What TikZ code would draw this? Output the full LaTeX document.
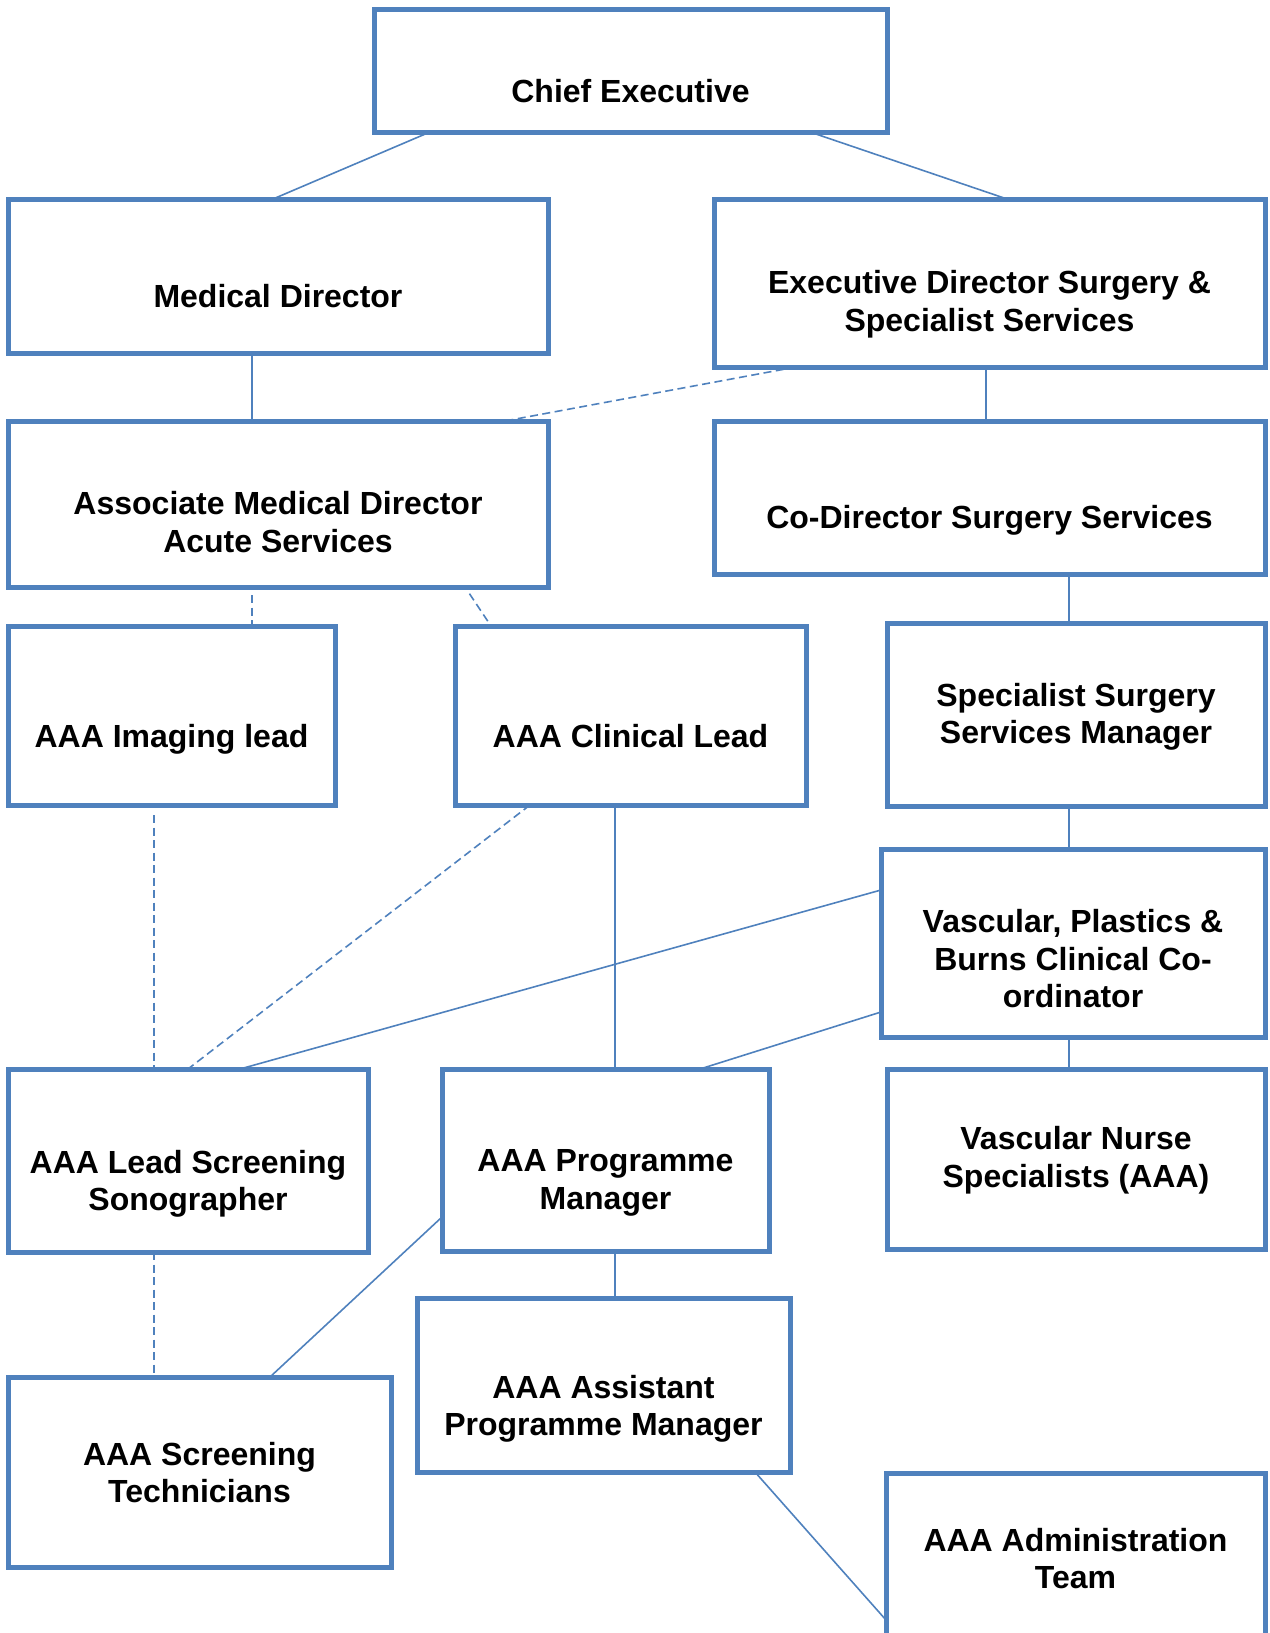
\documentclass[tikz,border=0pt]{standalone}
\usepackage{fontspec}
\setmainfont{Liberation Sans}
\definecolor{orgblue}{HTML}{4F81BD}
\tikzset{
  orgbox/.style={draw=orgblue, line width=5pt, fill=white, outer sep=0pt, inner sep=0pt},
  orgtext/.style={align=center, inner sep=0pt, font=\fontsize{32}{37.5}\selectfont\bfseries},
  solidlink/.style={draw=orgblue, line width=1.6pt},
  dashlink/.style={draw=orgblue, line width=1.6pt, dash pattern=on 8pt off 4.5pt}
}
\begin{document}
\begin{tikzpicture}[x=1pt, y=-1pt]
    \useasboundingbox (0,0) rectangle (1269,1633);
    \clip (0,0) rectangle (1269,1633);
    \node[orgbox, minimum width=513, minimum height=123] (ce) at (630.5,70.5) {};
    \node[orgbox, minimum width=540, minimum height=154] (md) at (278,276) {};
    \node[orgbox, minimum width=551, minimum height=168] (ed) at (989.5,283) {};
    \node[orgbox, minimum width=540, minimum height=166] (amd) at (278,504) {};
    \node[orgbox, minimum width=551, minimum height=153] (cod) at (989.5,497.5) {};
    \node[orgbox, minimum width=327, minimum height=179] (img) at (171.5,715.5) {};
    \node[orgbox, minimum width=351, minimum height=179] (cl) at (630.5,715.5) {};
    \node[orgbox, minimum width=378, minimum height=183] (sssm) at (1076,714.5) {};
    \node[orgbox, minimum width=384, minimum height=188] (vasc) at (1073,943) {};
    \node[orgbox, minimum width=360, minimum height=183] (lss) at (188,1160.5) {};
    \node[orgbox, minimum width=327, minimum height=182] (pm) at (605.5,1160) {};
    \node[orgbox, minimum width=378, minimum height=180] (vns) at (1076,1159) {};
    \node[orgbox, minimum width=383, minimum height=190] (tech) at (199.5,1472) {};
    \node[orgbox, minimum width=373, minimum height=174] (apm) at (603.5,1385) {};
    \node[orgbox, minimum width=379, minimum height=227] (adm) at (1075.5,1586.5) {};

    \node[orgtext] (ce-t) at (630.5,91) {Chief Executive};
    \node[orgtext] (md-t) at (278,296) {Medical Director};
    \node[orgtext] (ed-t) at (989.5,304) {Executive Director Surgery \&\\Specialist Services};
    \node[orgtext] (amd-t) at (278,522) {Associate Medical Director\\Acute Services};
    \node[orgtext] (cod-t) at (989.5,520) {Co-Director Surgery Services};
    \node[orgtext] (img-t) at (171.5,739) {AAA Imaging lead};
    \node[orgtext] (cl-t) at (630.5,736) {AAA Clinical Lead};
    \node[orgtext] (sssm-t) at (1076,717) {Specialist Surgery\\Services Manager};
    \node[orgtext] (vasc-t) at (1073,959) {Vascular, Plastics \&\\Burns Clinical Co-\\ordinator};
    \node[orgtext] (lss-t) at (188,1184) {AAA Lead Screening\\Sonographer};
    \node[orgtext] (pm-t) at (605.5,1183) {AAA Programme\\Manager};
    \node[orgtext] (vns-t) at (1076,1160) {Vascular Nurse\\Specialists (AAA)};
    \node[orgtext] (tech-t) at (199.5,1472.5) {AAA Screening\\Technicians};
    \node[orgtext] (apm-t) at (603.5,1409) {AAA Assistant\\Programme Manager};
    \node[orgtext] (adm-t) at (1075.5,1558.5) {AAA Administration\\Team};

    \draw[solidlink] ([xshift=56pt]ce.south west) -- ([xshift=265pt]md.north west);
    \draw[solidlink] ([xshift=436pt]ce.south west) -- ([xshift=293pt]ed.north west);
    \draw[solidlink] ([xshift=244pt]md.south west) -- ([xshift=244pt]amd.north west);
    \draw[dashlink] ([xshift=82pt]ed.south west) -- ([xshift=497pt]amd.north west);
    \draw[solidlink] ([xshift=272pt]ed.south west) -- ([xshift=272pt]cod.north west);
    \draw[dashlink, shorten <=8pt] ([xshift=244pt]amd.south west) -- ([xshift=244pt]img.north west);
    \draw[dashlink, shorten <=8pt] ([xshift=457pt]amd.south west) -- ([xshift=36pt]cl.north west);
    \draw[solidlink] ([xshift=355pt]cod.south west) -- ([xshift=182pt]sssm.north west);
    \draw[solidlink] ([xshift=182pt]sssm.south west) -- ([xshift=188pt]vasc.north west);
    \draw[dashlink, shorten <=10pt] ([xshift=146pt]img.south west) -- ([xshift=146pt]lss.north west);
    \draw[dashlink] ([xshift=75pt]cl.south west) -- ([xshift=180pt]lss.north west);
    \draw[solidlink] ([yshift=53pt]vasc.west) -- ([xshift=232pt]lss.north west);
    \draw[solidlink] ([xshift=160pt]cl.south west) -- ([xshift=173pt]pm.north west);
    \draw[solidlink] ([yshift=-69pt]vasc.west) -- ([xshift=258pt]pm.north west);
    \draw[solidlink] ([xshift=188pt]vasc.south west) -- ([xshift=182pt]vns.north west);
    \draw[dashlink] ([xshift=146pt]lss.south west) -- ([xshift=146pt]tech.north west);
    \draw[solidlink] ([yshift=-57pt]pm.west) -- ([xshift=262pt]tech.north west);
    \draw[solidlink] ([xshift=173pt]pm.south west) -- ([xshift=198pt]apm.north west);
    \draw[solidlink] ([xshift=338pt]apm.south west) -- ([yshift=-33.5pt]adm.west);
\end{tikzpicture}
\end{document}
